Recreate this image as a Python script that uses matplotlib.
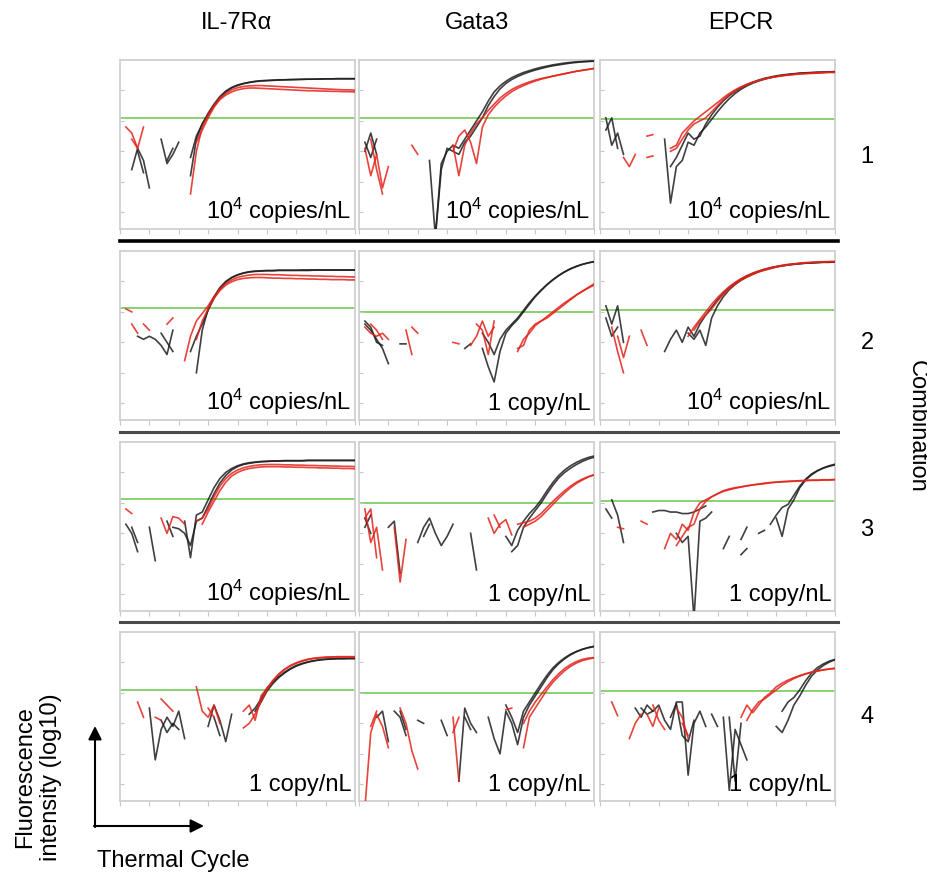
import numpy as np
import matplotlib
matplotlib.use("Agg")
import matplotlib.pyplot as plt
from matplotlib.patches import FancyArrowPatch
from matplotlib.lines import Line2D

plt.rcParams['font.family'] = ['Liberation Sans', 'DejaVu Sans']
plt.rcParams['mathtext.fontset'] = 'custom'
plt.rcParams['mathtext.rm'] = 'Liberation Sans'
plt.rcParams['mathtext.it'] = 'Liberation Sans'

n = np.nan

# ---------------- labels ----------------
genes = ["IL-7R\u03b1", "Gata3", "EPCR"]
combos = ["1", "2", "3", "4"]
conc = [["10$^{4}$ copies/nL", "10$^{4}$ copies/nL", "10$^{4}$ copies/nL"],
        ["10$^{4}$ copies/nL", "1 copy/nL", "10$^{4}$ copies/nL"],
        ["10$^{4}$ copies/nL", "1 copy/nL", "1 copy/nL"],
        ["1 copy/nL", "1 copy/nL", "1 copy/nL"]]
# threshold (green line) per panel, y units: 10 per log decade tick
threshold = [[31, 30.9, 30.5],
             [31.2, 30.1, 30.7],
             [31.2, 30.0, 30.7],
             [31.1, 30.0, 30.5]]

# ---------------- data: fluorescence per cycle (cycles 1..40) ----------------
# Row 1
c1_il7_black = [
    [n, 14, 21, 17, 8, n, 24, 16, 19, 23, n, 18, 25, 29, 32.5, 35.5, 38, 39.8, 41, 41.8,
     42.3, 42.7, 43, 43.2, 43.3, 43.4, 43.5, 43.5, 43.6, 43.6, 43.7, 43.7, 43.7, 43.8, 43.8, 43.8, 43.9, 43.9, 43.9, 43.9],
    [n, n, 20, 13, n, 22, n, 17, 21, n, n, 12, 24, 29, 32, 35, 37.5, 39.5, 40.8, 41.6,
     42.2, 42.6, 42.9, 43.1, 43.2, 43.3, 43.4, 43.5, 43.5, 43.6, 43.6, 43.7, 43.7, 43.7, 43.8, 43.8, 43.8, 43.8, 43.8, 43.8]]
c1_il7_red = [
    [28, 26, 21, 28, n, n, n, n, n, n, n, 6, 20, 28, 32, 35, 37.5, 39, 40.2, 40.9,
     41.3, 41.5, 41.6, 41.6, 41.5, 41.4, 41.3, 41.2, 41.1, 41, 40.9, 40.8, 40.7, 40.6, 40.5, 40.4, 40.3, 40.2, 40.2, 40.1],
    [n, 24, 21, n, n, n, n, n, n, n, n, n, 23, 27, 31, 34.5, 37, 38.5, 39.5, 40.2,
     40.6, 40.8, 40.8, 40.7, 40.6, 40.5, 40.4, 40.3, 40.2, 40.1, 40, 39.9, 39.9, 39.8, 39.8, 39.7, 39.7, 39.6, 39.6, 39.5]]
c1_gata_black = [
    [20, 26, 19, n, n, n, n, n, n, n, n, 17, -8, 14, 21, 20, 19, 23, 25, 28,
     31, 35, 38, 40.5, 42.3, 43.6, 44.6, 45.4, 46.1, 46.7, 47.2, 47.7, 48.1, 48.4, 48.7, 49, 49.2, 49.4, 49.5, 49.6],
    [23, 18, 24, n, n, n, n, n, n, n, n, n, -8, 16, 20, 22, 21, 24, 27, 30,
     33, 36.5, 39.5, 41.5, 43, 44.2, 45.1, 45.9, 46.5, 47.1, 47.6, 48, 48.4, 48.7, 49, 49.2, 49.4, 49.5, 49.6, 49.7]]
c1_gata_red = [
    [21, 12, 19, 8, 15, n, n, n, 22, 19, n, n, n, n, n, 22, 12, 22, 26, 29,
     31, 33.5, 35.5, 37.5, 39, 40.3, 41.3, 42.1, 42.8, 43.4, 43.9, 44.3, 44.7, 45.1, 45.5, 45.9, 46.3, 46.6, 46.9, 47.2],
    [n, 24, 14, 6, n, n, n, n, n, n, n, n, n, n, n, 20, 25, 27, 23, 16,
     28, 32, 34.5, 36.5, 38.2, 39.6, 40.7, 41.6, 42.4, 43.1, 43.7, 44.2, 44.7, 45.1, 45.5, 45.9, 46.3, 46.6, 46.9, 47.2]]
c1_epcr_black = [
    [31, 22, 26, 19, n, n, n, n, n, n, 24, 3, 15, 17, 23, 22, 26, 28, 30.5, 33,
     35.3, 37.3, 39, 40.4, 41.5, 42.4, 43.1, 43.7, 44.2, 44.6, 44.9, 45.2, 45.4, 45.6, 45.7, 45.8, 45.9, 46, 46.1, 46.1],
    [27, 31, 21, n, n, n, n, n, n, n, n, 15, 18, 22, 26, 24, 25, 29, 32, 34.5,
     36.6, 38.3, 39.7, 40.9, 41.9, 42.7, 43.4, 44, 44.4, 44.8, 45.1, 45.3, 45.5, 45.7, 45.8, 45.9, 46, 46, 46.1, 46.2]]
c1_epcr_red = [
    [n, n, n, 18, 15, 19, n, 25, 25.5, n, n, 20, 21, 24, 27, 29, 30, 31, 33, 35,
     37, 38.6, 39.9, 41, 41.9, 42.7, 43.3, 43.8, 44.2, 44.6, 44.9, 45.1, 45.3, 45.5, 45.6, 45.7, 45.8, 45.9, 46, 46],
    [n, n, n, n, n, n, n, 18, 18.5, n, n, 21, 22, 26, 28, 30, 31.5, 33, 34.5, 36,
     37.6, 39, 40.2, 41.2, 42, 42.7, 43.3, 43.8, 44.2, 44.5, 44.8, 45, 45.2, 45.4, 45.5, 45.6, 45.7, 45.8, 45.9, 45.9]]

# Row 2
c2_il7_black = [
    [n, n, 22, 21, 22, 21, 19, 16, 24, n, n, n, 10, 24, 31, 35, 38, 40, 41.3, 42.2,
     42.8, 43.2, 43.4, 43.5, 43.6, 43.6, 43.7, 43.7, 43.7, 43.7, 43.8, 43.8, 43.8, 43.8, 43.8, 43.8, 43.8, 43.8, 43.8, 43.8],
    [n, n, n, n, n, n, 23, 20, 17, n, n, 17, 22, 26, 30.5, 34.5, 37.5, 39.8, 41.2, 42.1,
     42.7, 43.1, 43.3, 43.4, 43.5, 43.5, 43.6, 43.6, 43.6, 43.6, 43.6, 43.6, 43.7, 43.7, 43.7, 43.7, 43.7, 43.7, 43.7, 43.7]]
c2_il7_red = [
    [31, 30, n, 26, 24, n, n, 26, 28, n, 14, 22, 27, 29.5, 32, 35, 37.5, 39.3, 40.5, 41.3,
     41.8, 42.1, 42.3, 42.3, 42.3, 42.2, 42.2, 42.1, 42, 42, 41.9, 41.9, 41.8, 41.8, 41.7, 41.7, 41.6, 41.6, 41.5, 41.5],
    [n, 26, 23, n, n, n, n, n, n, n, n, n, 21, 27, 31, 34.5, 37, 38.8, 39.9, 40.6,
     41, 41.2, 41.3, 41.3, 41.2, 41.1, 41.1, 41, 41, 40.9, 40.9, 40.8, 40.8, 40.7, 40.7, 40.6, 40.6, 40.6, 40.5, 40.5]]
c2_gata_black = [
    [26, 24, 21, 18, 13, n, 19.5, 19.5, n, n, n, n, n, n, n, n, n, 18, 19.5, n,
     18, 12, 7, 17, 23, 25.5, 27.5, 30, 32.5, 35, 37, 38.9, 40.5, 41.9, 43.1, 44.1, 44.9, 45.6, 46.1, 46.5],
    [27, 25, 20, 19, n, n, n, n, n, n, n, n, n, n, n, n, n, n, n, n,
     23, 20, 16, 21, 24, 26, 28, 30.5, 33, 35.2, 37.2, 39, 40.6, 42, 43.2, 44.2, 45, 45.6, 46.1, 46.5]]
c2_gata_red = [
    [25, 23, 22, 23, 21, n, n, 24, 16, n, n, n, n, n, n, 20, 19.5, n, 19, 22,
     27, 22, 25, n, n, n, 18, 19, 24, 26, 27, 28.5, 30, 31.5, 33, 34.3, 35.6, 36.7, 37.8, 38.8],
    [n, 26, 24, 21, n, n, n, n, 25, 23, n, n, n, n, n, n, n, n, n, 26,
     24, 16, 27, n, n, n, 17, 21, 23, 25.5, 27, 28, 29.5, 31, 32.5, 34, 35.5, 36.8, 38, 39.2]]
c2_epcr_black = [
    [32, 26, 32, 20, n, n, n, n, n, n, 17, 21, 24, 20, 25, 22, 26, 29, 31.5, 34,
     36.2, 38, 39.5, 40.8, 41.8, 42.7, 43.4, 44, 44.5, 44.9, 45.2, 45.5, 45.7, 45.9, 46, 46.1, 46.2, 46.3, 46.3, 46.4],
    [28, 22, 25, n, n, n, n, n, n, n, n, n, n, n, 23, 21, 24, 19, 28, 32,
     35, 37.3, 39, 40.4, 41.5, 42.4, 43.2, 43.8, 44.3, 44.8, 45.1, 45.4, 45.6, 45.8, 46, 46.1, 46.2, 46.3, 46.3, 46.4]]
c2_epcr_red = [
    [n, 25, 17, 10, n, n, 24, 19, n, n, n, n, n, n, 22, 25, 27.5, 30, 32.5, 34.7,
     36.6, 38.3, 39.7, 40.9, 41.9, 42.7, 43.4, 44, 44.5, 44.9, 45.3, 45.6, 45.8, 46, 46.2, 46.3, 46.4, 46.5, 46.5, 46.6],
    [n, n, 22, 15, 22, n, n, n, n, n, n, n, n, n, n, 24, 27, 29, 31, 33.5,
     35.8, 37.6, 39.1, 40.4, 41.4, 42.3, 43.1, 43.7, 44.2, 44.7, 45.1, 45.4, 45.7, 45.9, 46.1, 46.2, 46.3, 46.4, 46.5, 46.5]]

# Row 3
c3_il7_black = [
    [23, 20, 14, n, 22, 11, n, 24, 19, n, 24, 12, 26, 27, 31, 35, 38, 40, 41.3, 42.2,
     42.8, 43.2, 43.4, 43.6, 43.7, 43.8, 43.8, 43.9, 43.9, 43.9, 43.9, 44, 44, 44, 44, 44, 44, 44, 44, 44],
    [n, 22, 17, n, n, n, n, n, 22, 21.5, 20, 16, 24, 25, 29, 33, 36.5, 39, 40.8, 41.9,
     42.6, 43, 43.3, 43.5, 43.6, 43.7, 43.7, 43.8, 43.8, 43.8, 43.8, 43.9, 43.9, 43.9, 43.9, 43.9, 43.9, 43.9, 43.9, 43.9]]
c3_il7_red = [
    [28, 26.5, n, n, 23, n, 25, 20, 25.5, 25, 23, n, 24, 25, 28, 32, 35.5, 38, 39.7, 40.8,
     41.5, 42, 42.3, 42.5, 42.6, 42.6, 42.6, 42.5, 42.5, 42.4, 42.4, 42.3, 42.3, 42.2, 42.2, 42.1, 42.1, 42, 42, 41.9],
    [n, n, n, n, n, n, n, n, n, n, n, n, n, 23, 27, 30.5, 34, 36.8, 38.8, 40,
     40.8, 41.3, 41.6, 41.8, 41.9, 41.9, 41.9, 41.8, 41.8, 41.7, 41.7, 41.6, 41.6, 41.5, 41.5, 41.4, 41.4, 41.3, 41.3, 41.2]]
c3_gata_black = [
    [22, 26, n, n, 22, 24, 7, n, n, 17, 22, 25, 20, 16, 19, 23, n, n, 20, 8,
     n, n, n, n, n, 14, 16, 22, 25, 27.5, 30, 33, 35.8, 38.2, 40, 41.4, 42.6, 43.6, 44.4, 45],
    [25, 20, n, n, n, n, n, n, n, n, 19, 23, n, n, n, n, n, n, n, n,
     n, n, n, n, 19, 16, 21, 24, 26.5, 28.5, 31, 34, 36.7, 39, 40.8, 42.2, 43.3, 44.2, 44.9, 45.4]]
c3_gata_red = [
    [28, 17, 22, 8, n, 22, 4, 18, n, n, n, n, n, n, n, n, n, n, n, n,
     n, 25, 20, 23, 24.5, 19.5, n, 22, 23, 24, 25.5, 27.5, 29.5, 31.5, 33.3, 35, 36.4, 37.5, 38.5, 39.2],
    [25, 28, 12, n, n, n, n, n, n, n, n, n, n, n, n, n, n, n, n, n,
     n, n, 26, 22, n, n, 23, 23.5, 24, 25, 26.5, 28.5, 30.5, 32.3, 34, 35.5, 36.8, 37.8, 38.6, 39.2]]
c3_epcr_black = [
    [n, 31, 26, 17, n, n, n, n, 27, 27.5, 27.5, 27, 27, 26.5, 26.5, 27, 28, 29, n, n,
     15, 19, n, 18, 22, n, 20, 21, n, 25, 19, 28, 31, 35, 37.5, 39.2, 40.5, 41.5, 42.2, 42.7],
    [28, 25, n, n, n, n, n, n, n, n, n, n, 20, 17, 19, -8, 24, 25, 27, n,
     n, n, n, 13, 15, n, n, n, 23, 26, 28.5, 29.5, 32.5, 35.5, 37.8, 39.5, 40.6, 41.4, 42, 42.5]]
c3_epcr_red = [
    [n, n, 22, 21.5, n, n, 24, 23, n, n, 15, 20, 18, 23, 21, 27, 30, 31, 32, 33,
     33.8, 34.3, 34.8, 35.2, 35.6, 35.9, 36.2, 36.5, 36.7, 36.8, 37, 37.1, 37.2, 37.3, 37.4, 37.5, 37.5, 37.6, 37.6, 37.7],
    [n, n, n, n, n, n, n, n, n, n, n, n, 16, 19, 22, 23, 28, 30.5, 32, 33,
     34, 34.6, 35, 35.3, 35.6, 35.9, 36.1, 36.3, 36.6, 36.8, 36.9, 37, 37.1, 37.2, 37.3, 37.4, 37.4, 37.5, 37.5, 37.6]]

# Row 4
c4_il7_black = [
    [n, n, n, n, 25, 8, 18, 22, 19, 24, 15, n, n, n, 19, 26, 21, 14, 23, n,
     n, 23, 25, 28, 31.5, 33.5, 35.3, 36.8, 38, 39, 39.7, 40.2, 40.6, 40.9, 41.1, 41.2, 41.3, 41.3, 41.3, 41.3],
    [n, n, n, n, n, n, 21, 17, 20, 18, n, n, n, n, n, 22, 16, n, n, n,
     n, n, 24, 27, 30.5, 33, 35, 36.5, 37.8, 38.8, 39.5, 40.1, 40.5, 40.8, 41, 41.1, 41.2, 41.2, 41.3, 41.3]]
c4_il7_red = [
    [n, n, 27, 22, n, n, 28, 26, 24, n, n, n, 32, 24, 22, 26, 20, n, n, n,
     18.5, 20, 23, 27, 31, 34, 36.2, 37.8, 39, 39.9, 40.6, 41.1, 41.4, 41.6, 41.7, 41.8, 41.8, 41.8, 41.8, 41.8],
    [n, n, n, n, n, 22, 21, n, n, n, n, n, n, n, 25, 22, n, n, n, n,
     24, 26, 21, 29, 31.5, 34, 36, 37.6, 38.8, 39.7, 40.4, 40.9, 41.3, 41.5, 41.7, 41.8, 41.9, 41.9, 41.9, 41.9]]
c4_gata_black = [
    [n, n, 22, 24, 14, n, 24, 18, n, 21, 20, n, n, 21, 16, n, 1, 25, 20, 17,
     n, 22, 15, 10, 24, 20, 13, 22, 26, 29, 32, 35, 37.6, 39.6, 41.2, 42.5, 43.5, 44.3, 44.9, 45.3],
    [n, n, n, n, n, 24, 22, 16, n, n, n, n, n, n, n, n, n, 22, 18, n,
     n, n, n, n, 26, 22, 17, 24, 27, 30, 33, 35.8, 38.2, 40, 41.5, 42.7, 43.6, 44.3, 44.8, 45.2]]
c4_gata_red = [
    [-8, 17, 23, 19, 12, n, 25, 20, 11, 5, n, n, n, n, n, 22, 1, n, n, n,
     n, n, n, n, 24.5, 25, n, 12, 22, 25, 28, 31, 33.5, 35.5, 37.3, 38.7, 39.8, 40.6, 41.1, 41.5],
    [n, 19, 24, n, n, n, n, n, n, n, n, n, n, n, n, 17, 22, n, n, n,
     n, n, n, n, n, n, n, 20, 24, 27, 29.5, 32, 34.3, 36.3, 38, 39.3, 40.3, 41, 41.4, 41.6]]
c4_epcr_black = [
    [n, n, n, n, n, 25, 22, 26, 24, 26, 21, 18, 27, 27, 3, 20, 24, 19, n, n,
     22, -2, 18, 13, 8, n, n, n, n, 19, 17, 21, 26, 29, 32.5, 35.5, 37.5, 39, 40.1, 40.9],
    [n, n, n, n, n, n, 25, 23, 24, n, n, 22, 26.5, 16, 14, 21, n, n, 23, 19,
     n, 22, 1, 20, n, n, n, n, n, n, 24, 27, 28.5, 31, 34, 36.5, 38.3, 39.5, 40.4, 41]]
c4_epcr_red = [
    [n, 27, 22.5, n, 15, 20, 23, n, 26, 21, 18, n, 25, 22, 15, n, n, n, n, n,
     n, n, n, 22, 26, 23.5, 26, 28.5, 30, 32, 33.2, 34.2, 35, 35.7, 36.3, 36.8, 37.2, 37.5, 37.8, 38],
    [n, n, n, n, n, n, n, 23, 19, 25, n, n, n, 20, 16, n, n, n, n, n,
     n, n, n, n, 21, 24.5, 27, 28, 29.5, 31, 32.5, 33.7, 34.7, 35.5, 36.2, 36.8, 37.2, 37.6, 37.9, 38.1]]

black_sets = [[c1_il7_black, c1_gata_black, c1_epcr_black],
              [c2_il7_black, c2_gata_black, c2_epcr_black],
              [c3_il7_black, c3_gata_black, c3_epcr_black],
              [c4_il7_black, c4_gata_black, c4_epcr_black]]
red_sets = [[c1_il7_red, c1_gata_red, c1_epcr_red],
            [c2_il7_red, c2_gata_red, c2_epcr_red],
            [c3_il7_red, c3_gata_red, c3_epcr_red],
            [c4_il7_red, c4_gata_red, c4_epcr_red]]

# ---------------- layout ----------------
W, H = 928, 880
fig = plt.figure(figsize=(W / 100, H / 100), dpi=100)
col_left = [120, 359, 600]
row_top = [60, 251, 442, 632]
pw, ph = 235, 169


def fx(px):
    return px / W


def fy(py):
    return 1 - py / H


for r in range(4):
    for c in range(3):
        ax = fig.add_axes([fx(col_left[c]), fy(row_top[r] + ph), pw / W, ph / H])
        ax.set_xlim(0, 40)
        ax.set_ylim(-5.5, 50)
        for sp in ax.spines.values():
            sp.set_color('#d0d0d0')
            sp.set_linewidth(1.3)
        ax.set_xticks(np.arange(0, 41, 5))
        ax.set_yticks([0, 10, 20, 30, 40])
        ax.tick_params(axis='x', direction='out', length=3.5, width=0.8, color='#c8c8c8',
                       labelbottom=False)
        ax.tick_params(axis='y', direction='in', length=3, width=0.8, color='#c8c8c8',
                       labelleft=False)
        ax.axhline(threshold[r][c], color='#7fcf63', lw=1.3, zorder=1)
        for yv in black_sets[r][c]:
            ax.plot(np.arange(1, len(yv) + 1), yv, color='#1e1e1e', lw=1.2, alpha=0.85, zorder=3)
        for yv in red_sets[r][c]:
            ax.plot(np.arange(1, len(yv) + 1), yv, color='#e2231a', lw=1.2, alpha=0.85, zorder=4)
        ax.text(0.985, 0.06, conc[r][c], transform=ax.transAxes, ha='right', va='baseline',
                fontsize=17, color='black', zorder=6)

# column titles
title_x = [237, 477, 741]
for c in range(3):
    fig.text(fx(title_x[c]), fy(23), genes[c], ha='center', va='center', fontsize=17)

# row numbers
row_y = [157, 343, 530, 717]
for r in range(4):
    fig.text(fx(867), fy(row_y[r]), combos[r], ha='center', va='center', fontsize=17)

fig.text(fx(917), fy(426), "Combination", ha='center', va='center', rotation=-90, fontsize=17)

# separators between rows
fig.add_artist(Line2D([fx(120), fx(838)], [fy(241), fy(241)], color='black', lw=2.6))
fig.add_artist(Line2D([fx(120), fx(838)], [fy(432), fy(432)], color='#4a4a4a', lw=2.2))
fig.add_artist(Line2D([fx(120), fx(838)], [fy(622), fy(622)], color='#4a4a4a', lw=2.2))

# axis key arrows
ox, oy = 95, 826
fig.add_artist(FancyArrowPatch((fx(ox), fy(oy + 1)), (fx(ox), fy(726)), transform=fig.transFigure,
                               arrowstyle='-|>', mutation_scale=20, lw=1.5, color='black',
                               shrinkA=0, shrinkB=0))
fig.add_artist(FancyArrowPatch((fx(ox - 1), fy(oy)), (fx(204), fy(oy)), transform=fig.transFigure,
                               arrowstyle='-|>', mutation_scale=20, lw=1.5, color='black',
                               shrinkA=0, shrinkB=0))
fig.text(fx(38), fy(777), "Fluorescence\nintensity (log10)", ha='center', va='center',
         rotation=90, fontsize=17, linespacing=1.25)
fig.text(fx(97), fy(861), "Thermal Cycle", ha='left', va='center', fontsize=17)

fig.savefig("out.png", dpi=100, facecolor='white')
